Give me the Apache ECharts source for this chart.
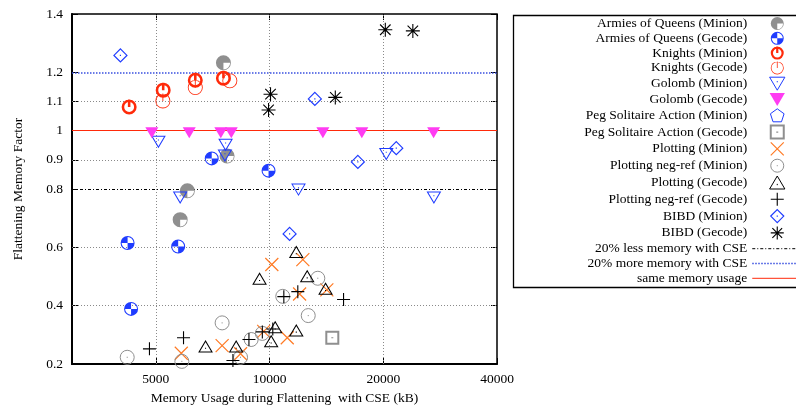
<!DOCTYPE html>
<html><head><meta charset="utf-8">
<script src="https://cdn.jsdelivr.net/npm/echarts@6/dist/echarts.min.js"></script>
<style>html,body{margin:0;padding:0;background:#fff}#c{width:796px;height:408px}</style>
</head><body><div id="c"></div>
<script>
// ---- tick labels / reference values ----
const xTicks = [5000, 10000, 20000, 40000];
const yTicks = [0.2, 0.4, 0.6, 0.8, 0.9, 1, 1.1, 1.2, 1.4];
const xGrid = [5000, 10000, 20000];
const yGrid = [0.4, 0.6, 0.9, 1.1];
const lessLine = 0.8, moreLine = 1.2, sameLine = 1.0;

// ---- series data [memory kB, factor] ----
const armiesMinion = [[7550,1.233],[7720,0.913],[6060,0.794],[5800,0.695]];
const armiesGecode = [[4210,0.615],[5730,0.603],[4300,0.389],[7030,0.905],[9940,0.863]];
const knightsMinion = [[4250,1.081],[5230,1.139],[6360,1.173],[7550,1.180]];
const knightsGecode = [[5220,1.102],[6360,1.148],[7850,1.171]];
const golombMinion = [[5080,0.962],[7650,0.952],[7620,0.915],[5800,0.771],[11930,0.798],[20370,0.920],[27230,0.771]];
const golombGecode = [[4880,0.993],[6130,0.993],[7430,0.993],[7920,0.993],[13840,0.993],[17550,0.993],[27180,0.993]];
const pegMinion = [];
const pegGecode = [[14660,0.290]];
const plottingMinion = [[10140,0.541],[12250,0.558],[12010,0.440],[14180,0.454],[11140,0.290],[9650,0.312],[8380,0.235],[7490,0.263],[5840,0.237]];
const plottingNegMinion = [[4200,0.223],[5860,0.209],[7490,0.341],[8380,0.223],[8940,0.284],[9570,0.305],[13420,0.494],[12660,0.366],[10840,0.432]];
const plottingGecode = [[11770,0.584],[9410,0.492],[12580,0.501],[14070,0.458],[10350,0.326],[11770,0.315],[10100,0.278],[8160,0.260],[6770,0.260]];
const plottingNegGecode = [[4810,0.252],[5920,0.290],[8000,0.212],[8820,0.284],[9570,0.310],[10200,0.320],[10910,0.431],[11880,0.448],[15700,0.421]];
const bibdMinion = [[4030,1.258],[13180,1.109],[17130,0.893],[21650,0.940],[11300,0.646]];
const bibdGecode = [[10060,1.125],[9940,1.071],[14930,1.114],[20250,1.346],[23950,1.342]];

const FONT = 'Liberation Serif';
const RING = 'M10,0A10,10,0,1,1,-10,0A10,10,0,1,1,10,0Z';
const P = {
  pieQ: 'path://' + RING + ' M9,0A9,9,0,1,0,-9,0A9,9,0,1,0,9,0Z M0,0L0,9A9,9,0,1,1,9,0Z',
  checker: 'path://' + RING + ' M8.5,0A8.5,8.5,0,1,0,-8.5,0A8.5,8.5,0,1,0,8.5,0Z M0,0L-8.5,0A8.5,8.5,0,0,1,0,-8.5Z M0,0L8.5,0A8.5,8.5,0,0,1,0,8.5Z',
  knightThick: 'path://' + RING + ' M6.6,0A6.6,6.6,0,1,0,-6.6,0A6.6,6.6,0,1,0,6.6,0Z M-1.7,-10L1.7,-10L1.7,0L-1.7,0Z',
  knightThin: 'path://' + RING + ' M8.9,0A8.9,8.9,0,1,0,-8.9,0A8.9,8.9,0,1,0,8.9,0Z M-0.6,-10L0.6,-10L0.6,0L-0.6,0Z',
  triDownDot: 'path://M-10,-8.5L10,-8.5L0,8.5Z M0,-3.5L0,-1.8',
  triDown: 'path://M-10,-8.5L10,-8.5L0,8.5Z',
  triUpDot: 'path://M-10,8.5L10,8.5L0,-8.5Z M0,1.8L0,3.5',
  circleDot: 'path://' + RING + ' M0,-0.8L0,0.8',
  squareDot: 'path://M-10,-10L10,-10L10,10L-10,10Z M0,-1L0,1',
  diamondDot: 'path://M0,-10L10,0L0,10L-10,0Z M0,-1L0,1',
  pentagon: 'path://M0,-10L9.51,-3.09L5.88,8.09L-5.88,8.09L-9.51,-3.09Z',
  cross: 'path://M-10,-10L10,10M-10,10L10,-10',
  plus: 'path://M-10,0L10,0M0,-10L0,10',
  star: 'path://M-10,0L10,0M0,-10L0,10M-7.5,-7.5L7.5,7.5M-7.5,7.5L7.5,-7.5'
};

function sc(name, data, symbol, size, fill, stroke, bw) {
  return { name, type: 'scatter', data, symbol, symbolSize: size, z: 3,
    itemStyle: { color: fill, borderColor: stroke, borderWidth: bw, opacity: 1 },
    emphasis: { disabled: true } };
}
function refLine(name, value, color, type, width) {
  return { name, type: 'line', data: [], symbol: 'none',
    lineStyle: { color, type, width }, itemStyle: { color },
    markLine: { silent: true, symbol: ['none', 'none'], label: { show: false }, z: 1, animation: false,
      lineStyle: { color, type, width }, emphasis: { disabled: true },
      data: [{ yAxis: value }] } };
}

const BLUE = '#1f3cff', RED = '#ff2a0a', GRAY = '#8f8f8f', ORANGE = '#ff7a24', MAG = '#ff3cf2';

const series = [
  { name: 'grid', type: 'line', data: [], symbol: 'none',
    markLine: { silent: true, symbol: ['none', 'none'], label: { show: false }, z: 1, animation: false,
      lineStyle: { color: '#8a8a8a', type: [1, 2], width: 1 }, emphasis: { disabled: true },
      data: xGrid.map(v => ({ xAxis: v })).concat(yGrid.map(v => ({ yAxis: v }))) } },
  sc('Armies of Queens (Minion)', armiesMinion, P.pieQ, 15, GRAY, GRAY, 0),
  sc('Armies of Queens (Gecode)', armiesGecode, P.checker, 14, BLUE, BLUE, 0),
  sc('Knights (Minion)', knightsMinion, P.knightThick, 15, RED, RED, 0),
  sc('Knights (Gecode)', knightsGecode, P.knightThin, 15, RED, RED, 0),
  sc('Golomb (Minion)', golombMinion, P.triDownDot, [13, 11], 'none', BLUE, 1),
  sc('Golomb (Gecode)', golombGecode, P.triDown, [13, 11], MAG, MAG, 0),
  sc('Peg Solitaire Action (Minion)', pegMinion, P.pentagon, 12, 'none', BLUE, 1),
  sc('Peg Solitaire Action (Gecode)', pegGecode, P.squareDot, 12, 'none', GRAY, 2),
  sc('Plotting (Minion)', plottingMinion, P.cross, 13, 'none', ORANGE, 1.2),
  sc('Plotting neg-ref (Minion)', plottingNegMinion, P.circleDot, 14, 'none', GRAY, 1),
  sc('Plotting (Gecode)', plottingGecode, P.triUpDot, [13, 11], 'none', '#000', 1),
  sc('Plotting neg-ref (Gecode)', plottingNegGecode, P.plus, 13, 'none', '#000', 1.1),
  sc('BIBD (Minion)', bibdMinion, P.diamondDot, 13, 'none', BLUE, 1.2),
  sc('BIBD (Gecode)', bibdGecode, P.star, 14, 'none', '#000', 1.1),
  refLine('20% less memory with CSE', lessLine, '#000', [3, 2, 1, 2], 1),
  refLine('20% more memory with CSE', moreLine, '#3a50e0', [1.5, 1.5], 1.5),
  refLine('same memory usage', sameLine, RED, 'solid', 1)
];

const legendData = series.filter(s => s.name !== 'grid').map(s =>
  s.type === 'line' ? { name: s.name, itemStyle: { opacity: 0, color: 'none', borderWidth: 0 } } : { name: s.name });

const chart = echarts.init(document.getElementById('c'), null, { renderer: 'canvas' });
const baseLabel = { color: '#000', fontFamily: FONT, fontSize: 13.5 };
chart.setOption({
  animation: false,
  backgroundColor: '#fff',
  textStyle: { fontFamily: FONT },
  graphic: [{ type: 'rect', left: 511, top: 13, shape: { width: 300, height: 272 },
    style: { fill: 'none', stroke: '#000', lineWidth: 1.3 }, silent: true, z: 0 }],
  grid: { left: 72, right: 299, top: 14, bottom: 44, show: true, borderColor: '#000', borderWidth: 1.5,
    backgroundColor: 'transparent', containLabel: false, outerBoundsMode: 'none' },
  legend: { orient: 'vertical', align: 'right', right: -7, top: 15.5, padding: 0, itemGap: -1.2,
    itemWidth: 50, itemHeight: 13, selectedMode: false,
    textStyle: { color: '#000', fontFamily: FONT, fontSize: 13.5, lineHeight: 16 },
    itemStyle: { borderWidth: 'inherit' }, lineStyle: { width: 'inherit' },
    data: legendData },
  xAxis: [
    { type: 'log', logBase: 10, min: 3000, max: 40000, position: 'bottom',
      name: 'Memory Usage during Flattening  with CSE (kB)', nameLocation: 'middle', nameGap: 27,
      nameTextStyle: baseLabel,
      axisLine: { show: true, onZero: false, lineStyle: { color: '#000', width: 2 } },
      axisTick: { show: true, inside: true, length: 6, customValues: xTicks, lineStyle: { color: '#000' } },
      axisLabel: Object.assign({ customValues: xTicks, margin: 8, formatter: v => String(Math.round(v)) }, baseLabel),
      splitLine: { show: false }, minorTick: { show: false } },
    { type: 'log', logBase: 10, min: 3000, max: 40000, position: 'top',
      axisLine: { show: false },
      axisTick: { show: true, inside: true, length: 6, customValues: xTicks, lineStyle: { color: '#000' } },
      axisLabel: { show: false }, splitLine: { show: false } }
  ],
  yAxis: [
    { type: 'value', min: 0.2, max: 1.4, position: 'left',
      name: 'Flattening Memory Factor', nameLocation: 'middle', nameGap: 47,
      nameTextStyle: baseLabel,
      axisLine: { show: true, onZero: false, lineStyle: { color: '#000', width: 2 } },
      axisTick: { show: true, inside: true, length: 6, customValues: yTicks, lineStyle: { color: '#000' } },
      axisLabel: Object.assign({ customValues: yTicks, margin: 9, formatter: v => String(Math.round(v * 10) / 10) }, baseLabel),
      splitLine: { show: false } },
    { type: 'value', min: 0.2, max: 1.4, position: 'right',
      axisLine: { show: false },
      axisTick: { show: true, inside: true, length: 6, customValues: yTicks, lineStyle: { color: '#000' } },
      axisLabel: { show: false }, splitLine: { show: false } }
  ],
  series
});
</script></body></html>
